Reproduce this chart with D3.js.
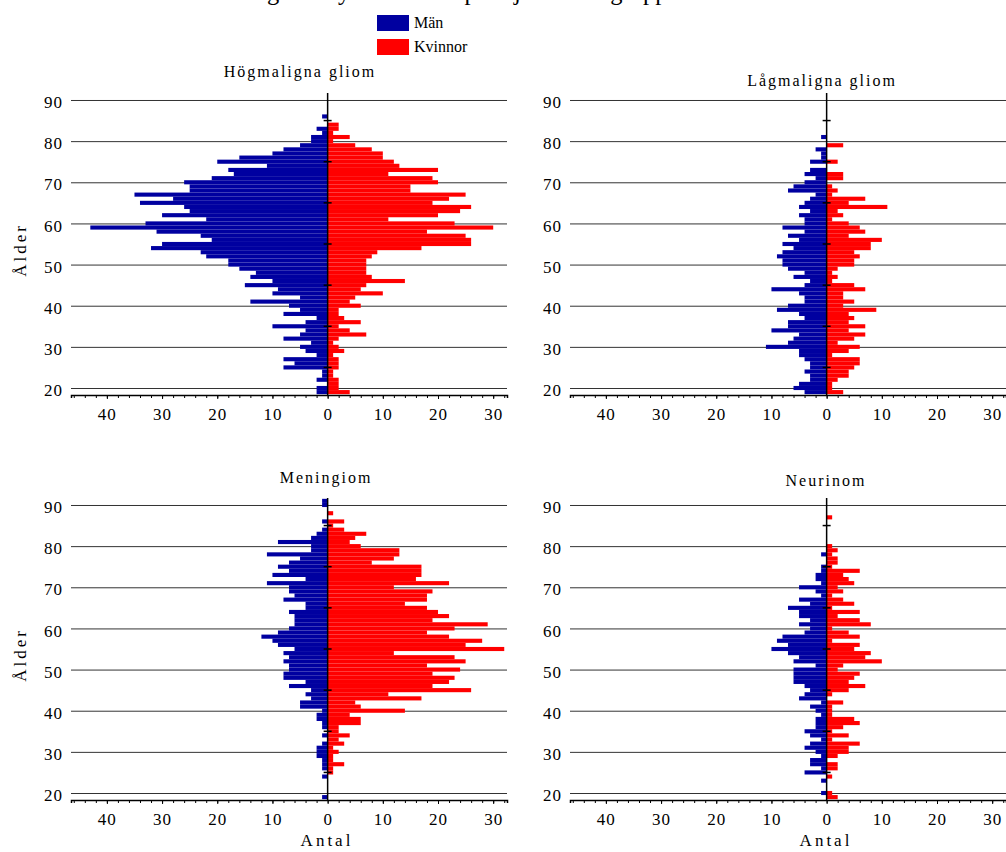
<!DOCTYPE html>
<html>
<head>
<meta charset="utf-8">
<script src="https://cdn.jsdelivr.net/npm/d3@7"></script>
<style>
  body { margin: 0; background: #fff; }
  svg text { font-family: "Liberation Serif", "Times New Roman", Times, "DejaVu Serif", "Noto Serif", serif !important; fill: #000; }
</style>
</head>
<body>
<svg width="1006" height="852"></svg>
<script>
// ages, top of the pyramid first
var ages = [91,90,89,88,87,86,85,84,83,82,81,80,79,78,77,76,75,74,73,72,71,70,
            69,68,67,66,65,64,63,62,61,60,59,58,57,56,55,54,53,52,51,50,
            49,48,47,46,45,44,43,42,41,40,39,38,37,36,35,34,33,32,31,30,
            29,28,27,26,25,24,23,22,21,20,19];

var hogMen   = [0,0,0,0,0,1,0,0,2,1,3,3,5,8,10,16,20,11,18,17,21,26,
                25,25,35,28,34,26,25,30,22,33,43,31,23,21,30,32,23,22,18,18,
                16,13,14,10,15,9,10,5,14,7,5,8,2,4,10,4,5,8,3,5,
                4,2,8,6,8,1,1,2,0,2,2];
var hogWomen = [0,0,0,0,0,0,0,2,2,1,4,1,5,8,10,10,12,13,20,11,19,20,
                15,15,25,22,19,26,24,20,11,23,30,18,25,26,26,17,9,8,7,7,
                7,7,8,14,7,6,10,5,4,6,2,2,3,6,2,4,7,2,1,2,
                3,1,2,2,2,1,1,2,2,2,4];

var lagMen   = [0,0,0,0,0,0,0,0,0,0,1,0,0,2,1,1,3,0,3,4,2,4,
                6,7,2,3,4,5,3,5,4,4,8,4,7,5,8,6,8,9,8,8,
                7,4,6,3,4,10,5,4,4,7,9,5,4,7,7,10,5,6,7,11,
                5,5,4,3,3,4,3,3,5,6,4];
var lagWomen = [0,0,0,0,0,0,0,0,0,0,0,0,3,0,0,0,2,0,0,3,3,0,
                1,2,1,7,4,11,2,3,1,4,6,7,4,10,8,8,5,6,5,5,
                2,1,2,1,5,7,3,3,5,3,9,4,5,4,7,4,7,5,2,6,
                4,1,6,6,5,4,4,2,1,1,3];

var menMen   = [1,1,0,0,0,1,0,1,2,3,9,3,3,11,5,7,9,7,10,4,11,7,
                7,6,8,4,4,7,6,6,6,7,9,12,10,9,6,8,7,8,7,7,
                8,8,4,7,3,4,3,5,5,1,2,2,1,1,0,1,0,1,2,2,
                2,1,1,1,0,1,0,0,0,0,1];
var menWomen = [0,0,0,1,0,3,1,3,7,5,4,6,13,13,12,8,17,17,17,16,22,12,
                19,18,18,14,18,20,22,19,29,23,18,22,28,25,32,12,23,25,18,24,
                19,23,22,19,26,11,17,5,6,14,4,6,6,2,2,4,2,3,1,2,
                1,1,3,1,1,0,0,0,0,0,0];

var neuMen   = [0,0,0,0,0,0,0,0,0,0,0,0,0,1,0,0,1,1,2,2,1,5,
                2,1,5,3,7,5,5,3,5,3,4,8,9,7,10,7,5,6,2,6,
                6,6,6,4,3,4,5,1,3,2,1,2,2,2,4,3,1,3,4,2,
                1,3,3,1,4,0,1,0,0,1,0];
var neuWomen = [0,0,0,0,1,0,0,0,0,0,0,1,2,1,2,2,1,6,3,4,5,2,
                3,1,3,5,1,6,2,6,8,1,4,6,1,6,5,8,7,10,3,2,
                6,5,4,7,4,1,0,3,1,1,1,5,6,3,1,4,1,6,4,4,
                2,0,2,2,0,1,0,0,0,1,2];

var titles = ["Högmaligna gliom", "Lågmaligna gliom", "Meningiom", "Neurinom"];
var seriesNames = ["Män", "Kvinnor"];
var colors = ["#0000a0", "#ff0000"];
var xTicks = [-40, -30, -20, -10, 0, 10, 20, 30];
var yTicks = [20, 30, 40, 50, 60, 70, 80, 90];
var midTicks = [25, 35, 45, 55, 65, 75, 85];

var panels = [
  { title: titles[0], men: hogMen, women: hogWomen, dx: 0,   dy: 0,   tx: 300, ty: 77,  yLabel: true,  xLabel: false },
  { title: titles[1], men: lagMen, women: lagWomen, dx: 499, dy: 0,   tx: 822, ty: 86,  yLabel: false, xLabel: false },
  { title: titles[2], men: menMen, women: menWomen, dx: 0,   dy: 405, tx: 326, ty: 483, yLabel: true,  xLabel: true },
  { title: titles[3], men: neuMen, women: neuWomen, dx: 499, dy: 405, tx: 826, ty: 486, yLabel: false, xLabel: true }
];

var svg = d3.select("svg");

var x = d3.scaleLinear().domain([-46.5, 32.5]).range([71, 507]);
var y = d3.scaleLinear().domain([18.3, 91.7]).range([395, 93]);

// main title, cut off at the top edge as in the original (only descenders show)
svg.append("text")
    .attr("x", 112).attr("y", 0)
    .style("font-size", "24.5px")
    .text("Åldersfördelning hos nya tumörfall per hjärntumörgrupp");

// legend
var legend = svg.append("g").attr("transform", "translate(377,15)");
seriesNames.forEach(function(name, i) {
    legend.append("rect")
        .attr("x", 0).attr("y", i * 24)
        .attr("width", 32).attr("height", 16)
        .attr("fill", colors[i]);
    legend.append("text")
        .attr("x", 37).attr("y", i * 24 + 13)
        .style("font-size", "16px")
        .text(name);
});

panels.forEach(function(p) {
    var g = svg.append("g").attr("transform", "translate(" + p.dx + "," + p.dy + ")");

    // horizontal grid + age labels
    var yAxis = g.append("g")
        .attr("transform", "translate(" + x.range()[0] + ",0)")
        .call(d3.axisLeft(y).tickValues(yTicks).tickSize(-(x.range()[1] - x.range()[0])).tickPadding(8));
    yAxis.select(".domain").remove();
    yAxis.selectAll("line").attr("stroke", "#333");
    yAxis.selectAll("text")
        .style("font-size", "17px")
        .style("letter-spacing", "1px")
        .attr("dy", "0.45em");

    // bars
    g.append("g").selectAll("rect.m")
        .data(p.men)
        .enter().append("rect")
        .attr("x", function(d) { return x(-d); })
        .attr("y", function(d, i) { return y(ages[i] + 0.5); })
        .attr("width", function(d) { return x(0) - x(-d); })
        .attr("height", function(d, i) { return y(ages[i] - 0.5) - y(ages[i] + 0.5); })
        .attr("fill", colors[0]);

    g.append("g").selectAll("rect.w")
        .data(p.women)
        .enter().append("rect")
        .attr("x", x(0))
        .attr("y", function(d, i) { return y(ages[i] + 0.5); })
        .attr("width", function(d) { return x(d) - x(0); })
        .attr("height", function(d, i) { return y(ages[i] - 0.5) - y(ages[i] + 0.5); })
        .attr("fill", colors[1]);

    // centre axis with small ticks
    g.append("line")
        .attr("x1", x(0)).attr("x2", x(0))
        .attr("y1", y.range()[1]).attr("y2", y.range()[0])
        .attr("stroke", "#000").attr("stroke-width", 1.5);
    g.append("g").selectAll("line")
        .data(midTicks)
        .enter().append("line")
        .attr("x1", x(0) - 4).attr("x2", x(0) + 4)
        .attr("y1", function(d) { return y(d); })
        .attr("y2", function(d) { return y(d); })
        .attr("stroke", "#000").attr("stroke-width", 1.5);

    // bottom axis, minor ticks every 2
    g.append("g")
        .attr("transform", "translate(0," + y.range()[0] + ")")
        .call(d3.axisBottom(x).tickValues(d3.range(-46, 33, 2)).tickSize(3).tickFormat(""))
        .select(".domain").attr("stroke-width", 1.5);
    var xAxis = g.append("g")
        .attr("transform", "translate(0," + y.range()[0] + ")")
        .call(d3.axisBottom(x).tickValues(xTicks).tickSize(4).tickPadding(9)
              .tickFormat(function(d) { return Math.abs(d); }));
    xAxis.select(".domain").remove();
    xAxis.selectAll("text").style("font-size", "17px").style("letter-spacing", "1px");

    // panel title
    svg.append("text")
        .attr("x", p.tx).attr("y", p.ty)
        .attr("text-anchor", "middle")
        .style("font-size", "16px")
        .style("letter-spacing", "2px")
        .text(p.title);

    if (p.yLabel) {
        svg.append("text")
            .attr("transform", "translate(26," + (p.dy + 250) + ") rotate(-90)")
            .attr("text-anchor", "middle")
            .style("font-size", "17px")
            .style("letter-spacing", "3px")
            .text("Ålder");
    }
    if (p.xLabel) {
        svg.append("text")
            .attr("x", p.dx + 327).attr("y", p.dy + 441)
            .attr("text-anchor", "middle")
            .style("font-size", "17px")
            .style("letter-spacing", "3px")
            .text("Antal");
    }
});
</script>
</body>
</html>
